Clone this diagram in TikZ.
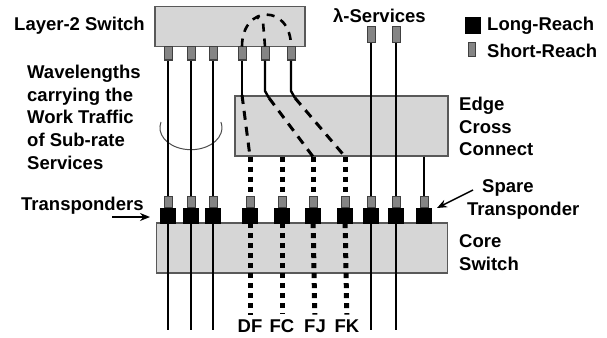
\documentclass[tikz,border=0pt]{standalone}
\usepackage{fontspec}
\setmainfont{Liberation Sans}
\usetikzlibrary{positioning, arrows.meta}
\tikzset{
    switchbox/.style={rectangle, draw=black!65, fill=black!16, line width=1.2pt, inner sep=0pt},
    shortreach/.style={rectangle, draw=black!75, fill=black!48, line width=1pt, minimum width=8pt, inner sep=0pt},
    longreach/.style={rectangle, draw=black, fill=black, minimum width=15pt, minimum height=15pt, inner sep=0pt},
    fiber/.style={line width=2.4pt},
    thinfiber/.style={line width=2pt},
    dashfiber/.style={line width=3pt, dash pattern=on 9pt off 7pt},
    dotfiber/.style={line width=5pt, dash pattern=on 5pt off 5pt},
    lbl/.style={font=\fontsize{18.5}{22.75}\selectfont\bfseries, inner sep=0pt, align=left},
    arrow/.style={line width=1.5pt, -{Stealth[length=10pt, width=8pt]}}
}

\begin{document}
\begin{tikzpicture}[x=1pt, y=-1pt]
    \useasboundingbox (0,0) rectangle (607,337);

    % switches
    \node (l2) [switchbox, minimum width=150pt, minimum height=40pt] at (230,26.7) {};
    \node (ecc) [switchbox, minimum width=213pt, minimum height=60pt] at (341.5,126) {};
    \node (core) [switchbox, minimum width=291pt, minimum height=50pt] at (302.3,248) {};

    % loop round the work wavelengths
    \draw [black!70, line width=1pt] (161,122) arc [start angle=195, end angle=-15, x radius=31, y radius=22];

    % ports of the layer-2 switch
    \foreach \n/\x in {1/168, 2/191, 3/213, 4/242, 5/265, 6/291}
        \node (p\n) [shortreach, minimum height=13pt] at (\x,53.5) {};

    % lambda services
    \node (lam1) [shortreach, minimum height=16pt] at (371,35) {};
    \node (lam2) [shortreach, minimum height=16pt] at (396,35) {};

    % transponders
    \foreach \n/\x in {1/168, 2/191, 3/213, 4/250, 5/282, 6/313, 7/345, 8/371, 9/396, 10/424} {
        \node (t\n) [longreach] at (\x,215.5) {};
        \node (s\n) [shortreach, minimum height=11pt, above=0pt of t\n] {};
    }
    \foreach \n/\x in {1/168, 2/191, 3/213, 8/371, 9/396}
        \coordinate (e\n) at (\x,330);

    % outputs of the core switch
    \node (df) [lbl, anchor=base] at (250,332.5) {DF};
    \node (fc) [lbl, anchor=base] at (282,332.5) {FC};
    \node (fj) [lbl, anchor=base] at (315,332.5) {FJ};
    \node (fk) [lbl, anchor=base] at (347,332.5) {FK};

    % work traffic
    \foreach \n in {1,2,3} {
        \draw [fiber] (p\n) -- (s\n);
        \draw [fiber] (t\n) -- (e\n);
    }
    \draw [fiber] (lam1) -- (s8);
    \draw [fiber] (t8) -- (e8);
    \draw [fiber] (lam2) -- (s9);
    \draw [fiber] (t9) -- (e9);
    \coordinate (spare) at (ecc.south -| s10);
    \draw [thinfiber] (spare) -- (s10);

    % sub-rate traffic through the edge cross connect
    \coordinate (in4) at (242,95);
    \coordinate (in5) at (269,98);
    \coordinate (in6) at (295,98);
    \foreach \n in {4,5,6,7}
        \coordinate (out\n) at (ecc.south -| s\n);
    \draw [fiber] (p4) -- (in4);
    \draw [fiber] (p5) -- (265,91) -- (in5);
    \draw [fiber] (p6) -- (291,91) -- (in6);
    \draw [dashfiber] (in4) -- (out4);
    \draw [dashfiber] (in5) -- (out6);
    \draw [dashfiber] (in6) -- (out7);
    \foreach \n in {4,5,6,7}
        \draw [dotfiber] (out\n) -- (s\n);
    \draw [dotfiber, shorten >=5pt] (t4) -- (df);
    \draw [dotfiber, shorten >=5pt] (t5) -- (fc);
    \draw [dotfiber, shorten >=5pt] (t6) -- (fj);
    \draw [dotfiber, shorten >=5pt] (t7) -- (fk);

    % loop back inside the layer-2 switch
    \draw [dashfiber, line width=2.6pt, dash pattern=on 8pt off 7pt] (p4.north) .. controls (242,4) and (291,4) .. (p6.north);
    \draw [dashfiber, line width=2.6pt, dash pattern=on 8pt off 7pt] (p5.north) -- (263,22) -- (257,17);

    % legend
    \node (lrkey) [longreach, minimum height=16pt] at (472.5,25) {};
    \node (srkey) [shortreach, minimum width=7pt, minimum height=14pt] at (472,50) {};
    \node (lrtext) [lbl, anchor=base west] at (487,31) {Long-Reach};
    \node (srtext) [lbl, anchor=base west] at (487,57) {Short-Reach};

    % labels
    \node (l2lbl) [lbl, anchor=base west] at (14,31) {Layer-2 Switch};
    \node (lamlbl) [lbl, anchor=base west] at (333,23) {λ-Services};
    \node (wllbl) [lbl, anchor=north west] at (27,64.8) {Wavelengths\\carrying the\\Work Traffic\\of Sub-rate\\Services};
    \node (ecclbl) [lbl, anchor=north west] at (459,96.8) {Edge\\Cross\\Connect};
    \node (corelbl) [lbl, anchor=north west] at (459,234.8) {Core\\Switch};
    \node (sparelbl) [lbl, anchor=north west] at (467,179.8) {\hspace*{15pt}Spare\\Transponder};
    \node (trlbl) [lbl, anchor=base west] at (21,210) {Transponders};

    % pointers
    \coordinate (trtail) at (112,217);
    \coordinate (trhead) at (150,217);
    \draw [arrow] (trtail) -- (trhead);
    \coordinate (sptail) at (473,190);
    \coordinate (sphead) at (437,208);
    \draw [arrow] (sptail) -- (sphead);
\end{tikzpicture}
\end{document}
